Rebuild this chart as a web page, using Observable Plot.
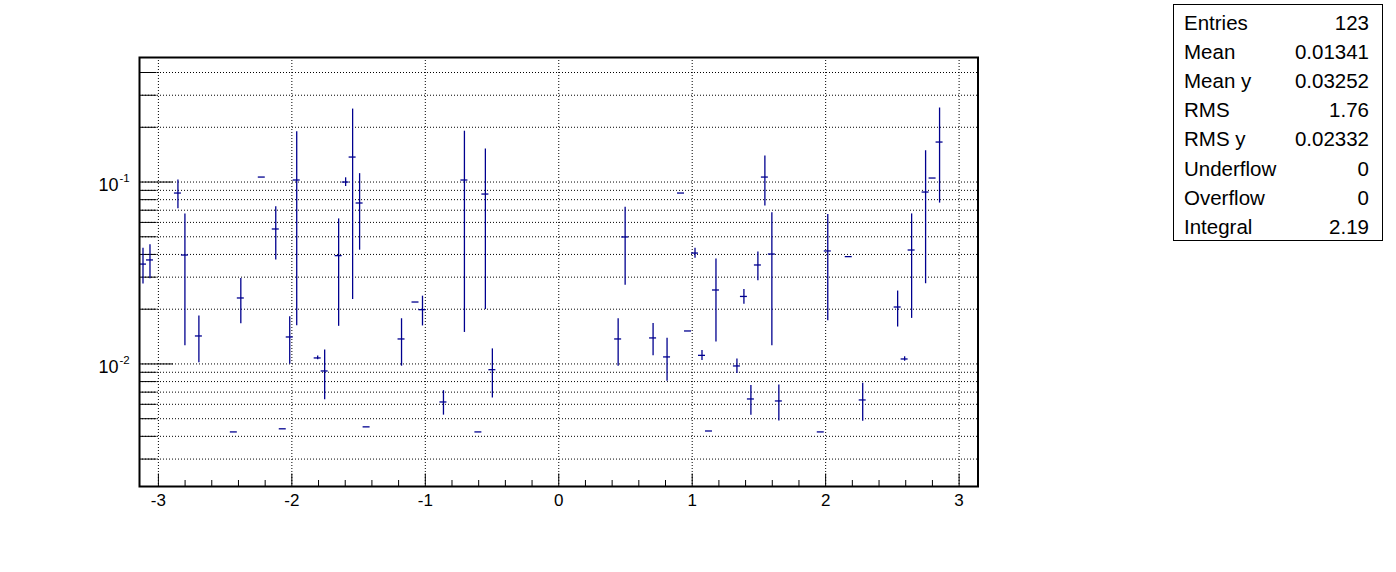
<!DOCTYPE html>
<html><head><meta charset="utf-8">
<script src="https://cdn.jsdelivr.net/npm/d3@7"></script>
<script src="https://cdn.jsdelivr.net/npm/@observablehq/plot@0.6"></script>
<style>
html,body{margin:0;padding:0;background:#fff;}
#wrap{position:relative;width:1396px;height:572px;font-family:"Liberation Sans",Arial,Helvetica,sans-serif;}
#wrap svg{position:absolute;left:0;top:0;}
#stats{position:absolute;left:1173px;top:4px;width:210px;height:237px;border:1px solid #000;box-sizing:border-box;background:#fff;}
.srow{position:absolute;left:10px;right:13px;height:24px;line-height:24px;font-size:20.5px;color:#000;}
.srow .lab{position:absolute;left:0;}
.srow .val{position:absolute;right:0;}
</style></head><body><div id="wrap"></div>
<script>
// Histogram: 120 bins over [-pi, pi], only filled bins listed
const nBins = 120;
const binIndex = [0,1,5,6,8,13,14,17,19,20,21,22,25,26,28,29,30,31,32,37,39,40,43,46,48,49,50,
  68,69,73,75,77,78,79,80,81,82,85,86,87,88,89,90,91,97,98,101,103,108,109,110,112,113,114];
const binValue = [0.0354,0.0373,0.0870,0.0397,0.01425,0.00423,0.02305,0.1065,0.0552,0.00440,0.01407,0.1026,0.01079,0.00915,0.0394,0.1000,0.1372,0.0767,0.00451,0.01372,0.0219,0.01988,0.00618,0.1026,0.00423,0.0859,0.0093,
  0.01372,0.0499,0.0139,0.01093,0.0870,0.01518,0.0407,0.01115,0.00428,0.0255,0.00975,0.0235,0.00642,0.0350,0.1065,0.0402,0.00626,0.00423,0.0418,0.0389,0.00634,0.02056,0.01065,0.0423,0.0881,0.1052,0.1659];
const binError = [0.0079,0.0079,0.0157,0.0271,0.0041,0.00423,0.0064,0.1065,0.0179,0.00440,0.0041,0.0864,0.00026,0.0028,0.0233,0.0055,0.1146,0.0345,0.00451,0.0040,0.0219,0.0037,0.00095,0.0877,0.00423,0.0660,0.0028,
  0.0040,0.0228,0.0028,0.0029,0.0870,0.01518,0.0026,0.0007,0.00428,0.0123,0.0009,0.0022,0.0012,0.0063,0.0327,0.0276,0.0014,0.00423,0.0245,0.0389,0.0015,0.0046,0.0003,0.0245,0.0605,0.1052,0.0893];

const xTickValues = [-3,-2,-1,0,1,2,3];
const xTickLabels = ["-3","-2","-1","0","1","2","3"];
const yMajorTicks = [0.01, 0.1];
const yMajorBase = ["10","10"];
const yMajorExp = ["-2","-1"];
const statLabels = ["Entries","Mean","Mean y","RMS","RMS y","Underflow","Overflow","Integral"];
const statValues = ["123","0.01341","0.03252","1.76","0.02332","0","0","2.19"];

const blue = "#00008f";
const xMin = -Math.PI, xMax = Math.PI;
const yMin = 0.00212, yMax = 0.4837;
const bw = (xMax - xMin) / nBins;

const bins = binIndex.map((b, k) => ({
  x: xMin + (b + 0.5) * bw,
  lo: xMin + b * bw,
  hi: xMin + (b + 1) * bw,
  v: binValue[k],
  e: binError[k]
}));

// axis tick positions
const xMinor = d3.range(-30, 31, 2).map(d => d / 10).filter(d => !xTickValues.includes(d));
const yAll = [];
for (const dec of [0.001, 0.01, 0.1]) for (let m = 1; m <= 9; m++) {
  const v = m * dec; if (v >= yMin && v <= yMax) yAll.push(+v.toPrecision(3));
}
const yMinor = yAll.filter(v => !yMajorTicks.includes(v));

const W = 1396, H = 572, mL = 139, mR = 418.5, mT = 57, mB = 86;
const pw = W - mL - mR, ph = H - mT - mB;
const font = '"Liberation Sans",Arial,Helvetica,sans-serif';

const chart = Plot.plot({
  width: W, height: H,
  marginLeft: mL, marginRight: mR, marginTop: mT, marginBottom: mB,
  style: {fontFamily: font, background: "transparent"},
  x: {domain: [xMin, xMax], axis: null},
  y: {type: "log", domain: [yMin, yMax], axis: null},
  marks: [
    // grid
    Plot.ruleY(yAll, {stroke: "#000", strokeWidth: 1, strokeDasharray: "1,2"}),
    Plot.ruleX(xTickValues, {stroke: "#000", strokeWidth: 1, strokeDasharray: "1,2"}),
    // ticks inside frame
    Plot.ruleX(xTickValues, {stroke: "#000", strokeWidth: 1, insetTop: ph - 12.5}),
    Plot.ruleX(xMinor, {stroke: "#000", strokeWidth: 1, insetTop: ph - 6}),
    Plot.ruleY(yMajorTicks, {stroke: "#000", strokeWidth: 1, insetRight: pw - 34}),
    Plot.ruleY(yMinor, {stroke: "#000", strokeWidth: 1, insetRight: pw - 17.5}),
    // data: horizontal bin segments and vertical error bars
    Plot.ruleY(bins, {y: "v", x1: "lo", x2: "hi", stroke: blue, strokeWidth: 1.3}),
    Plot.ruleX(bins.filter(d => d.v - d.e > 0), {x: "x", y1: d => d.v - d.e, y2: d => d.v + d.e, stroke: blue, strokeWidth: 1.3}),
    // frame
    Plot.frame({stroke: "#000", strokeWidth: 2}),
    // x labels
    Plot.text(xTickValues, {x: d => d, frameAnchor: "bottom", text: (d, i) => xTickLabels[i], lineAnchor: "top", dy: 7, fontSize: 17, fill: "#000"}),
    // y labels 10^n
    Plot.text(yMajorTicks, {y: d => d, frameAnchor: "left", text: (d, i) => yMajorBase[i], textAnchor: "end", lineAnchor: "middle", dx: -21, dy: 3, fontSize: 18, fill: "#000"}),
    Plot.text(yMajorTicks, {y: d => d, frameAnchor: "left", text: (d, i) => yMajorExp[i], textAnchor: "start", lineAnchor: "middle", dx: -20, dy: -4, fontSize: 11.5, fill: "#000"})
  ]
});

const wrap = document.getElementById("wrap");
wrap.appendChild(chart);
const box = document.createElement("div");
box.id = "stats";
statLabels.forEach((lab, k) => {
  const r = document.createElement("div");
  r.className = "srow";
  r.style.top = (22 + k * 29.1 - 4 - 12) + "px";
  r.innerHTML = `<span class="lab">${lab}</span><span class="val">${statValues[k]}</span>`;
  box.appendChild(r);
});
wrap.appendChild(box);
</script>
</body></html>
